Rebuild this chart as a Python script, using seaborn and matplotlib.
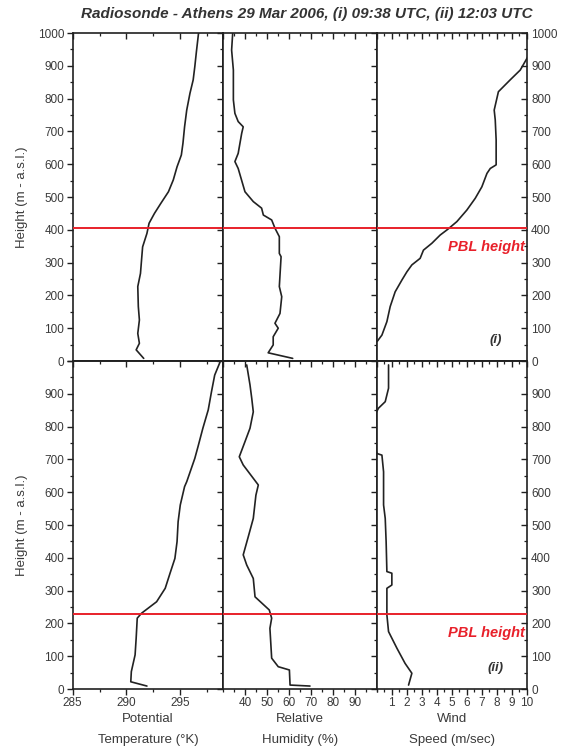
import numpy as np
import pandas as pd
import matplotlib
matplotlib.use("Agg")
import matplotlib.pyplot as plt
import seaborn as sns
from matplotlib.ticker import MultipleLocator, FixedLocator

# ---------------- data ----------------
# (i) 09:38 UTC
temp_i_h = [8, 34, 54, 84, 125, 166, 227, 267, 308, 348, 389, 420, 450, 481, 516, 552,
            592, 628, 664, 714, 765, 816, 857, 897, 943, 1000]
temp_i_v = [291.6, 290.9, 291.2, 291.05, 291.2, 291.1, 291.05, 291.3, 291.4, 291.5, 291.9,
            292.1, 292.6, 293.2, 293.9, 294.35, 294.7, 295.1, 295.25, 295.4, 295.6, 295.9,
            296.2, 296.35, 296.5, 296.7]

rh_i_h = [8, 25, 49, 74, 100, 115, 145, 196, 227, 318, 328, 379, 405, 430, 445, 466, 486,
          516, 587, 608, 633, 694, 714, 730, 755, 796, 887, 948, 1000]
rh_i_v = [61.7, 50.5, 52.8, 52.8, 55.1, 53.6, 55.9, 56.7, 55.6, 56.4, 55.6, 55.6, 53.6,
          52.1, 48.3, 47.5, 43.7, 39.9, 36.8, 35.3, 36.8, 38.4, 39.1, 36.8, 35.3, 34.6,
          34.6, 33.8, 34.3]

wind_i_h = [60, 79, 120, 166, 211, 247, 272, 293, 313, 338, 359, 384, 401, 425, 460, 496,
            531, 572, 587, 598, 674, 735, 765, 821, 857, 887, 923, 945]
wind_i_v = [0.05, 0.36, 0.69, 0.91, 1.24, 1.69, 2.02, 2.35, 2.9, 3.12, 3.68, 4.23, 4.72,
            5.34, 6.0, 6.56, 7.0, 7.34, 7.56, 7.95, 7.95, 7.89, 7.82, 8.1, 8.88, 9.55,
            10.0, 10.3]

# (ii) 12:03 UTC
temp_ii_h = [9, 22, 53, 104, 155, 216, 231, 246, 266, 307, 353, 398, 449, 510, 561, 617,
             632, 703, 739, 795, 851, 906, 957, 997]
temp_ii_v = [291.9, 290.4, 290.45, 290.8, 290.9, 291.0, 291.4, 292.0, 292.8, 293.6, 294.05,
             294.5, 294.7, 294.8, 295.0, 295.4, 295.6, 296.35, 296.65, 297.1, 297.6, 297.9,
             298.2, 298.7]

rh_ii_h = [9, 12, 58, 68, 94, 185, 216, 241, 281, 337, 378, 409, 464, 520, 591, 622, 683,
           708, 754, 795, 845, 886, 927, 988]
rh_ii_v = [69.6, 60.5, 60.2, 55.1, 52.1, 51.3, 52.1, 51.0, 44.5, 43.7, 40.7, 39.1, 41.4,
           43.7, 44.9, 46.0, 39.1, 37.3, 39.9, 42.2, 43.7, 43.0, 42.2, 40.7]

wind_ii_h = [12, 48, 78, 124, 175, 226, 307, 317, 353, 358, 449, 520, 561, 662, 713, 718,
             730, 840, 856, 876, 917, 988]
wind_ii_v = [2.13, 2.35, 1.9, 1.36, 0.8, 0.69, 0.69, 1.02, 1.02, 0.69, 0.64, 0.58, 0.47,
             0.47, 0.36, 0.03, -0.05, -0.05, 0.13, 0.58, 0.8, 0.8]

pbl_heights = [405, 230]
run_tags = ["(i)", "(ii)"]

temp_ticks = [285, 290, 295]
rh_ticks = [40, 50, 60, 70, 80, 90]
wind_ticks = [1, 2, 3, 4, 5, 6, 7, 8, 9, 10]
height_ticks = list(range(0, 1001, 100))

title = "Radiosonde - Athens 29 Mar 2006, (i) 09:38 UTC, (ii) 12:03 UTC"
xlabels = ["Potential\nTemperature (°K)", "Relative\nHumidity (%)", "Wind\nSpeed (m/sec)"]
ylabel = "Height (m - a.s.l.)"

# ---------------- style ----------------
sns.set_theme(style="ticks")
plt.rcParams["font.family"] = ["Liberation Sans", "DejaVu Sans"]
TXT = "#3a3a3a"
LINE = "#222222"
RED = "#e8202a"

fig = plt.figure(figsize=(5.63, 7.53), dpi=100)
W, H = 563.0, 753.0
col_x = [72.7, 223.3, 376.5, 527.0]
row_y = [(33.0, 361.0), (361.0, 689.0)]

profiles = [
    [(temp_i_v, temp_i_h), (rh_i_v, rh_i_h), (wind_i_v, wind_i_h)],
    [(temp_ii_v, temp_ii_h), (rh_ii_v, rh_ii_h), (wind_ii_v, wind_ii_h)],
]
xlims = [(285, 299), (30, 100), (0, 10)]
xmajor = [temp_ticks, rh_ticks, wind_ticks]
xminor = [2.5, 5, 0.5]
xtop_major = [5, 10, 1]

for r in range(2):
    y0, y1 = row_y[r]
    for c in range(3):
        left = col_x[c] / W
        width = (col_x[c + 1] - col_x[c]) / W
        bottom = 1 - y1 / H
        height = (y1 - y0) / H
        ax = fig.add_axes([left, bottom, width, height])
        xs, hs = profiles[r][c]
        df = pd.DataFrame({"x": xs, "h": hs})
        sns.lineplot(data=df, x="x", y="h", sort=False, estimator=None, ax=ax,
                     color=LINE, lw=1.2)
        ax.axhline(pbl_heights[r], color=RED, lw=1.4, zorder=5)
        ax.set_xlim(*xlims[c])
        ax.set_ylim(0, 1000)
        ax.set_xlabel("")
        ax.set_ylabel("")
        for s in ax.spines.values():
            s.set_linewidth(1.2)
            s.set_color("#202020")

        # y ticks (primary)
        ax.yaxis.set_major_locator(FixedLocator(height_ticks))
        ax.yaxis.set_minor_locator(MultipleLocator(50))
        ylabs = [str(v) for v in height_ticks]
        if r == 1:
            ylabs[-1] = ""
        ax.set_yticklabels(ylabs)
        if c == 0:
            ax.tick_params(axis="y", which="both", direction="out", left=True, right=False,
                           labelleft=True, labelsize=8.5, labelcolor=TXT, color="#202020")
            ax.tick_params(axis="y", which="major", length=4, width=1.0, pad=2)
            ax.tick_params(axis="y", which="minor", length=2.5, width=0.9)
            ax.set_ylabel(ylabel, fontsize=9.5, color=TXT)
            ax.yaxis.set_label_coords(-0.30, 0.5)
            sec = ax.secondary_yaxis("right")
            sec.yaxis.set_major_locator(FixedLocator(height_ticks))
            sec.yaxis.set_minor_locator(MultipleLocator(50))
            sec.tick_params(axis="y", which="both", direction="in", labelright=False,
                            color="#202020")
            sec.tick_params(axis="y", which="major", length=4, width=1.0)
            sec.tick_params(axis="y", which="minor", length=2.5, width=0.9)
            sec.spines["right"].set_linewidth(1.2)
        else:
            ax.tick_params(axis="y", which="both", direction="in", left=False, right=True,
                           labelleft=False, labelright=(c == 2), labelsize=8.5,
                           labelcolor=TXT, color="#202020")
            ax.tick_params(axis="y", which="major", length=4, width=1.0, pad=3)
            ax.tick_params(axis="y", which="minor", length=2.5, width=0.9)

        # x ticks
        if r == 0:
            ax.xaxis.set_major_locator(MultipleLocator(xtop_major[c]))
            ax.xaxis.set_minor_locator(MultipleLocator(xminor[c]))
            ax.tick_params(axis="x", which="both", direction="in", top=True, bottom=False,
                           labelbottom=False, color="#202020")
            ax.tick_params(axis="x", which="major", length=4, width=1.0)
            ax.tick_params(axis="x", which="minor", length=2.5, width=0.9)
        else:
            ax.xaxis.set_major_locator(FixedLocator(xmajor[c]))
            ax.xaxis.set_minor_locator(MultipleLocator(xminor[c]))
            ax.tick_params(axis="x", which="both", direction="out", top=False, bottom=True,
                           labelbottom=True, labelsize=8.5, labelcolor=TXT, color="#202020")
            ax.tick_params(axis="x", which="major", length=4, width=1.0, pad=2)
            ax.tick_params(axis="x", which="minor", length=2.5, width=0.9)
            ax.set_xlabel(xlabels[c], fontsize=9.5, color=TXT, linespacing=1.9, labelpad=3)
            sec = ax.secondary_xaxis("top")
            sec.xaxis.set_major_locator(MultipleLocator(xtop_major[c]))
            sec.xaxis.set_minor_locator(MultipleLocator(xminor[c]))
            sec.tick_params(axis="x", which="both", direction="in", labeltop=False,
                            color="#202020")
            sec.tick_params(axis="x", which="major", length=4, width=1.0)
            sec.tick_params(axis="x", which="minor", length=2.5, width=0.9)
            sec.spines["top"].set_linewidth(1.2)

        if c == 2:
            ax.text(0.985, (pbl_heights[r] - 58) / 1000.0, "PBL height",
                    transform=ax.transAxes, ha="right", va="center", color=RED,
                    fontsize=10.5, fontweight="bold", fontstyle="italic")
            ax.text(0.79, 0.065, run_tags[r], transform=ax.transAxes, ha="center",
                    va="center", color="#333333", fontsize=9.5, fontweight="bold",
                    fontstyle="italic")

fig.text(307 / W, 1 - 14 / H, title, ha="center", va="center", fontsize=11,
         fontweight="bold", fontstyle="italic", color="#333333")

fig.savefig("out.png", dpi=100)
